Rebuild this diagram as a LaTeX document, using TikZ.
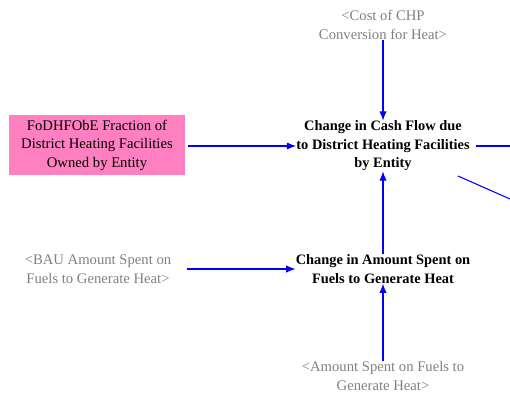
\documentclass[tikz,border=0pt]{standalone}
\usepackage{fontspec}
\setmainfont{Liberation Serif}
\usetikzlibrary{arrows.meta}
\definecolor{linkblue}{RGB}{0,0,255}
\definecolor{pinkfill}{RGB}{255,128,192}
\definecolor{shadowgray}{RGB}{128,128,128}
\begin{document}
\begin{tikzpicture}[x=0.75pt,y=-0.75pt,
  every node/.style={font=\fontsize{11pt}{13.9pt}\selectfont, align=center, inner sep=0pt},
  var/.style={font=\fontsize{10.8pt}{13.9pt}\selectfont\bfseries},
  shadow/.style={text=shadowgray},
  link/.style={draw=linkblue, line width=0.8pt, -{Latex[length=7pt,width=5.5pt]}},
  plain/.style={draw=linkblue, line width=0.8pt}]
\useasboundingbox (0,0) rectangle (510,403);
\node[shadow] (cost) at (383,25) {<Cost of CHP\\Conversion for Heat>};
\node[var] (cash) at (383,146) {Change in Cash Flow due\\to District Heating Facilities\\by Entity};
\node[fill=pinkfill, minimum width=132pt, minimum height=45pt] (frac) at (97,145) {FoDHFObE Fraction of\\District Heating Facilities\\Owned by Entity};
\node[var] (amt) at (383,269) {Change in Amount Spent on\\Fuels to Generate Heat};
\node[shadow] (bau) at (98,269) {<BAU Amount Spent on\\Fuels to Generate Heat>};
\node[shadow] (spent) at (383,376) {<Amount Spent on Fuels to\\Generate Heat>};
\coordinate (outR) at (510,146);
\coordinate (outD1) at (458,176);
\coordinate (outD2) at (510,199);
\coordinate (fs) at (188,146);
\draw[link] (cost) -- (cash);
\draw[link] (fs) -- (fs -| cash.west);
\draw[link, shorten <=15\pgflinewidth] (bau) -- (amt);
\draw[link] (amt) -- (cash);
\draw[link] (spent) -- (amt);
\draw[plain] (cash.east) ++(6,0) coordinate (cs) (cs) -- (outR);
\draw[plain] (outD1) -- (outD2);
\end{tikzpicture}
\end{document}
